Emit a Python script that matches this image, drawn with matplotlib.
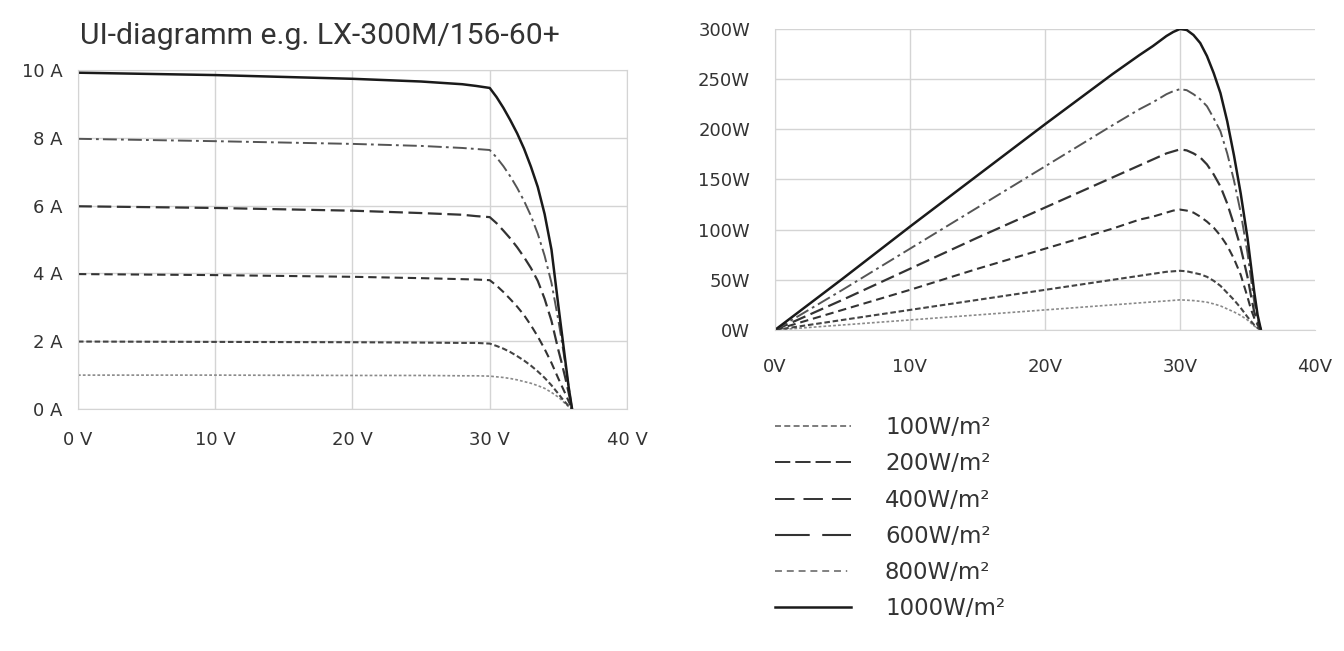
import matplotlib
matplotlib.use('Agg')
import matplotlib.pyplot as plt
from matplotlib.lines import Line2D

plt.rcParams['font.family'] = ['DejaVu Sans']
plt.rcParams['lines.scale_dashes'] = False

# irradiance levels (legend order, top to bottom)
labels = ['100W/m²', '200W/m²', '400W/m²', '600W/m²', '800W/m²', '1000W/m²']

# UI curves: voltage (V) and current (A)
volt_iv = [0, 10, 20, 25, 28, 29, 30, 30.5, 31, 31.5, 32, 32.5, 33, 33.5,
           34, 34.5, 35, 35.25, 35.5, 35.75, 36]
amp_100 = [1.00, 1.00, 0.99, 0.99, 0.98, 0.98, 0.97, 0.95, 0.93, 0.90, 0.86, 0.81,
           0.76, 0.69, 0.61, 0.49, 0.35, 0.26, 0.16, 0.07, 0]
amp_200 = [1.99, 1.98, 1.97, 1.96, 1.95, 1.95, 1.93, 1.86, 1.78, 1.68, 1.56, 1.43,
           1.28, 1.11, 0.92, 0.70, 0.45, 0.32, 0.20, 0.09, 0]
amp_400 = [3.98, 3.95, 3.90, 3.86, 3.83, 3.82, 3.80, 3.64, 3.45, 3.24, 3.02, 2.77,
           2.47, 2.14, 1.77, 1.36, 0.90, 0.68, 0.46, 0.23, 0]
amp_600 = [5.98, 5.93, 5.85, 5.78, 5.73, 5.69, 5.66, 5.48, 5.26, 5.03, 4.77, 4.48,
           4.16, 3.78, 3.25, 2.60, 1.74, 1.35, 0.93, 0.48, 0]
amp_800 = [7.97, 7.90, 7.82, 7.76, 7.70, 7.67, 7.64, 7.42, 7.16, 6.86, 6.52, 6.14,
           5.70, 5.17, 4.52, 3.72, 2.62, 2.00, 1.35, 0.65, 0]
amp_1000 = [9.92, 9.85, 9.74, 9.66, 9.58, 9.53, 9.47, 9.20, 8.88, 8.52, 8.13, 7.68,
            7.15, 6.55, 5.75, 4.70, 3.05, 2.25, 1.45, 0.65, 0]

# power curves: voltage (V) and power (W)
volt_pv = [0, 5, 10, 15, 20, 25, 27, 28, 29, 29.5, 30, 30.5, 31, 31.5, 32, 32.5,
           33, 33.5, 34, 34.5, 35, 35.25, 35.5, 35.75, 36]
watt_100 = [0, 5, 10, 15, 20, 25, 27, 28, 29, 29.5, 30, 29.7, 29.3, 28.6, 27.7, 26,
            24, 21, 18, 14.5, 10, 7, 4, 1.8, 0]
watt_200 = [0, 10, 20, 30, 40, 50, 54, 56, 58, 58.5, 59, 58.5, 57, 55.5, 53, 49,
            44, 37, 30, 22, 13, 9, 5, 2, 0]
watt_400 = [0, 20, 40, 61, 81, 101, 110, 113, 117, 119, 120, 119, 117, 113, 108, 102,
            94, 84, 71, 55, 33, 21, 12, 5, 0]
watt_600 = [0, 30, 61, 92, 122, 152, 164, 170, 176, 178, 180, 179, 176, 172, 165, 155,
            143, 126, 105, 82, 53, 35, 18, 8, 0]
watt_800 = [0, 40, 81, 122, 163, 204, 220, 227, 235, 238, 240, 239, 235, 230, 223, 211,
            198, 176, 149, 117, 77, 52, 28, 12, 0]
watt_1000 = [0, 51, 103, 154, 205, 255, 274, 283, 293, 297, 300, 299, 294, 286, 273, 256,
             236, 208, 174, 136, 92, 65, 38, 15, 0]

amps = [amp_100, amp_200, amp_400, amp_600, amp_800, amp_1000]
watts = [watt_100, watt_200, watt_400, watt_600, watt_800, watt_1000]

# line style per irradiance level (as drawn in the charts)
styles = [
    dict(color='#8a8a8a', lw=1.2, dashes=(2, 1.5)),
    dict(color='#444444', lw=1.5, dashes=(4, 2)),
    dict(color='#333333', lw=1.5, dashes=(6, 3.5)),
    dict(color='#333333', lw=1.6, dashes=(10, 4)),
    dict(color='#555555', lw=1.4, dashes=(10, 3, 2, 3)),
    dict(color='#1a1a1a', lw=1.8, linestyle='-'),
]
# the legend samples use longer dashes than the curves
legend_styles = [
    dict(color='#666666', lw=1.2, dashes=(4.3, 2.4)),
    dict(color='#333333', lw=1.4, dashes=(11, 3.6)),
    dict(color='#333333', lw=1.4, dashes=(14, 6.5)),
    dict(color='#333333', lw=1.5, dashes=(25, 9)),
    dict(color='#777777', lw=1.3, dashes=(5, 3.5, 5, 3.5, 5, 3.5, 5, 3.5, 5, 3.5, 5, 3.5, 1, 3)),
    dict(color='#1a1a1a', lw=1.8, linestyle='-'),
]

grid_col = '#d4d4d4'
txt_col = '#333333'

fig = plt.figure(figsize=(13.44, 6.51), dpi=100)

# left: UI diagram
ax1 = fig.add_axes([0.058, 0.3717, 0.4085, 0.5208])
for a, st in zip(amps, styles):
    ax1.plot(volt_iv, a, **st)
ax1.set_xlim(0, 40)
ax1.set_ylim(0, 10)
ax1.set_xticks([0, 10, 20, 30, 40])
ax1.set_xticklabels(['0 V', '10 V', '20 V', '30 V', '40 V'])
ax1.set_yticks([0, 2, 4, 6, 8, 10])
ax1.set_yticklabels(['0 A', '2 A', '4 A', '6 A', '8 A', '10 A'])
ax1.grid(True, color=grid_col, lw=1)
ax1.set_axisbelow(True)
for s in ax1.spines.values():
    s.set_color(grid_col)
ax1.tick_params(length=0, labelsize=13, labelcolor=txt_col)
ax1.tick_params(axis='x', pad=16)
ax1.tick_params(axis='y', pad=11)

fig.text(80 / 1344, 1 - 36 / 651, 'UI-diagramm e.g. LX-300M/156-60+',
         fontsize=21.7, color=txt_col, va='center', ha='left',
         family=['Roboto', 'DejaVu Sans'])

# right: power diagram
ax2 = fig.add_axes([0.5766, 0.4931, 0.4018, 0.4624])
for w, st in zip(watts, styles):
    ax2.plot(volt_pv, w, **st)
ax2.set_xlim(0, 40)
ax2.set_ylim(0, 300)
ax2.set_xticks([0, 10, 20, 30, 40])
ax2.set_xticklabels(['0V', '10V', '20V', '30V', '40V'])
ax2.set_yticks([0, 50, 100, 150, 200, 250, 300])
ax2.set_yticklabels(['0W', '50W', '100W', '150W', '200W', '250W', '300W'])
ax2.grid(True, color=grid_col, lw=1)
ax2.set_axisbelow(True)
ax2.get_xgridlines()[-1].set_visible(False)
ax2.spines['top'].set_visible(False)
ax2.spines['right'].set_visible(False)
ax2.spines['left'].set_color(grid_col)
ax2.spines['bottom'].set_color(grid_col)
ax2.tick_params(length=0, labelsize=13, labelcolor=txt_col)
ax2.tick_params(axis='x', pad=20)
ax2.tick_params(axis='y', pad=18)

handles = [Line2D([0], [0], **st) for st in legend_styles]
leg = fig.legend(handles, labels, loc='upper left',
                 bbox_to_anchor=(775 / 1344, 1 - 416 / 651),
                 frameon=False, fontsize=16.5, handlelength=3.3,
                 handletextpad=1.5, labelspacing=0.58, borderpad=0,
                 borderaxespad=0)
for t in leg.get_texts():
    t.set_color(txt_col)

fig.savefig('out.png', dpi=100, facecolor='white')
